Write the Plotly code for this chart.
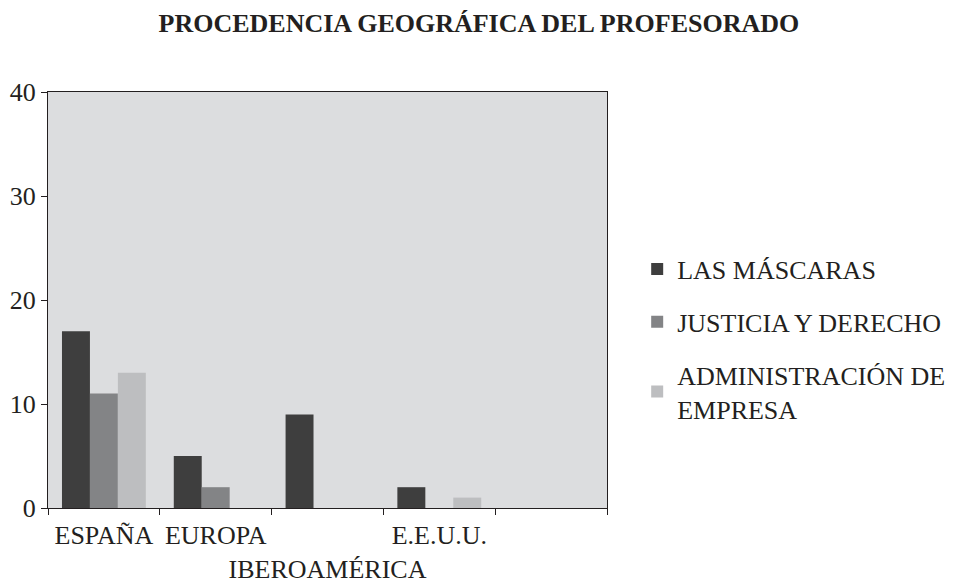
import plotly.graph_objects as go

categories = ["ESPAÑA", "EUROPA", "IBEROAMÉRICA", "E.E.U.U.", "OTROS"]
tick_labels = ["ESPAÑA", "EUROPA", "<br>IBEROAMÉRICA", "E.E.U.U.", ""]
series_names = ["LAS MÁSCARAS", "JUSTICIA Y DERECHO", "ADMINISTRACIÓN DE<br>EMPRESA"]
mascaras = [17, 5, 9, 2, 0]
justicia = [11, 2, 0, 0, 0]
administracion = [13, 0, 0, 1, 0]
colors = ["#3e3e3e", "#838486", "#bdbec0"]

font_family = "Liberation Serif"
text_color = "#231f20"

fig = go.Figure()
for name, vals, col in zip(series_names, [mascaras, justicia, administracion], colors):
    fig.add_trace(go.Bar(x=categories, y=vals, name=name, marker=dict(color=col, line=dict(width=0)),
                         legendgroup=name))

fig.update_layout(
    width=961, height=578,
    margin=dict(l=40, r=362, t=84, b=78, autoexpand=False),
    paper_bgcolor="white",
    plot_bgcolor="#dcdddf",
    barmode="group",
    bargap=0.25,
    bargroupgap=0,
    font=dict(family=font_family, size=26, color=text_color),
    title=dict(text="<b>PROCEDENCIA GEOGRÁFICA DEL PROFESORADO</b>", x=0.49, xanchor="center",
               y=0.975, yanchor="middle", font=dict(size=26, family=font_family, color=text_color)),
    legend=dict(x=1.054, xanchor="left", y=0.406, yanchor="middle", traceorder="grouped",
                tracegroupgap=16, font=dict(size=26, family=font_family, color=text_color),
                bgcolor="rgba(0,0,0,0)"),
    showlegend=True,
)
fig.update_xaxes(
    tickmode="array", tickvals=categories, ticktext=tick_labels, tickangle=0, automargin=False,
    tickson="boundaries", ticks="outside", ticklen=6, tickcolor=text_color,
    ticklabelstandoff=4,
    showline=True, linecolor=text_color, linewidth=1, mirror=True,
    showgrid=False, tickfont=dict(size=26, family=font_family),
)
fig.update_yaxes(
    range=[0, 40], dtick=10, ticks="outside", ticklen=6, tickcolor=text_color, automargin=False,
    showline=True, linecolor=text_color, linewidth=1, mirror=True,
    showgrid=False, zeroline=False, tickfont=dict(size=26, family=font_family),
)

fig.write_html("out.html")
